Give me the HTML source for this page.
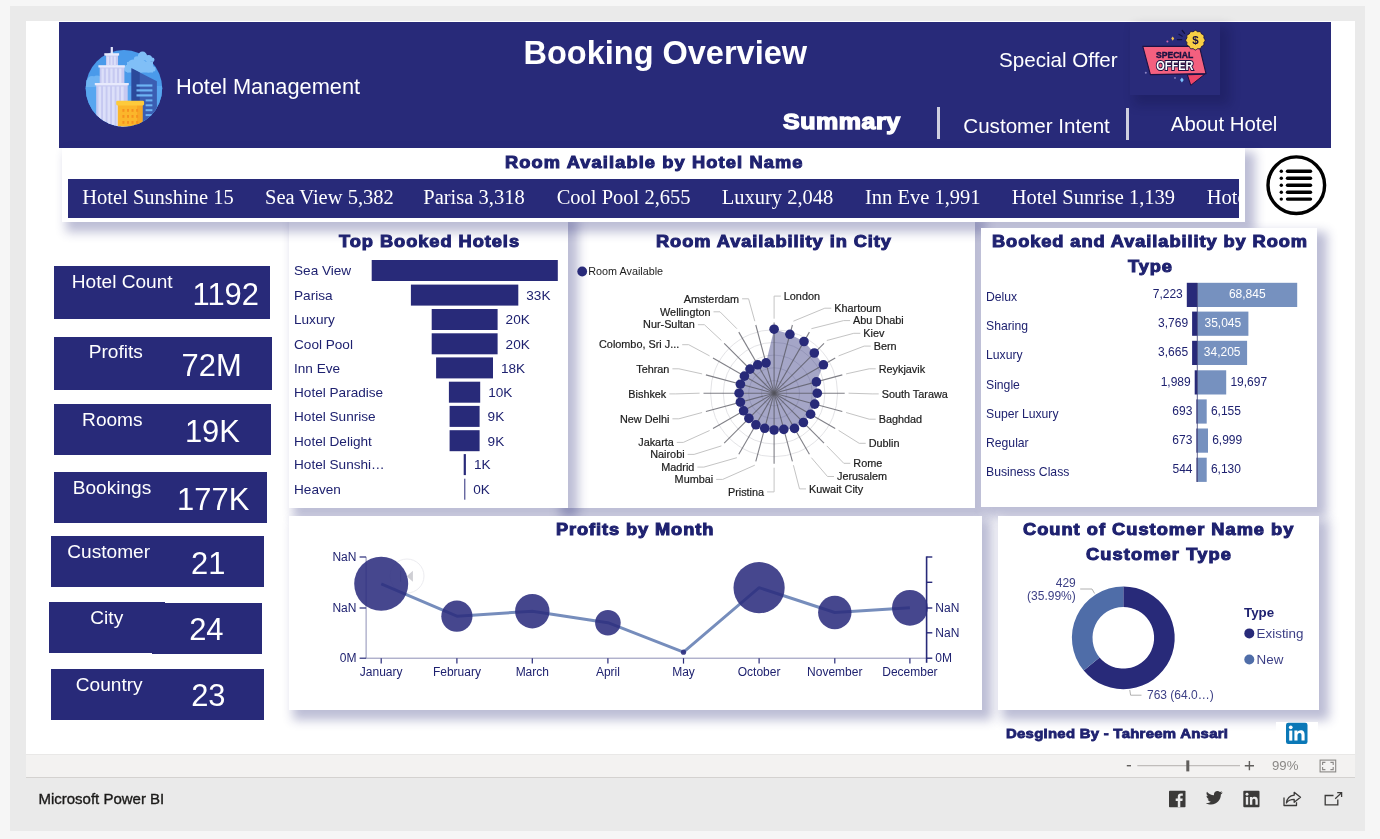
<!DOCTYPE html>
<html lang="en">
<head>
<meta charset="utf-8">
<title>Booking Overview</title>
<style>
*{box-sizing:border-box;margin:0;padding:0}
html,body{width:1380px;height:839px;overflow:hidden;background:#f6f6f6;font-family:"Liberation Sans",sans-serif;}
.abs{position:absolute}
.t{position:absolute;white-space:nowrap;line-height:1;color:#1f2270}
.w{color:#fff}
.bk{font-weight:bold;transform:scaleX(1.12);transform-origin:0 50%}
.se{font-family:"Liberation Serif",serif}
.panel{position:absolute;background:#fff;box-shadow:7px 7px 10px 3px rgba(40,42,121,.31)}
svg{position:absolute;left:0;top:0;overflow:visible}
svg text{font-family:"Liberation Sans",sans-serif}
</style>
</head>
<body>
<div class="abs" style="left:10px;top:6px;width:1355px;height:825px;background:#eaeaea;"></div>
<div class="abs" style="left:26px;top:21px;width:1329px;height:733px;background:#fff;"></div>
<div class="abs" style="left:26px;top:754px;width:1329px;height:24px;background:#f3f2f1;border-bottom:1px solid #d4d2d0;border-top:1px solid #e9e8e7;"></div>
<div class="abs" style="left:59px;top:22px;width:1272px;height:126px;background:#282a79;"></div>
<div class="panel" style="left:556px;top:214px;width:418.6px;height:293.5px"></div>
<div class="panel" style="left:289px;top:214px;width:279px;height:293.5px"></div>
<div class="panel" style="left:62px;top:148px;width:1183px;height:74px"></div>
<div class="panel" style="left:981px;top:227.7px;width:335.8px;height:279.6px"></div>
<div class="panel" style="left:289px;top:515.7px;width:693px;height:194px"></div>
<div class="panel" style="left:998px;top:515.7px;width:321px;height:194px"></div>
<div class="t  w" style="top:76.05px;font-size:21.8px;left:176.00px;">Hotel Management</div>
<div class="t  w" style="top:36.89px;font-size:32.5px;left:523.50px;font-weight:bold;">Booking Overview</div>
<div class="t  w" style="top:50.16px;font-size:20.6px;left:999.00px;">Special Offer</div>
<div class="t bk w" style="top:110.82px;font-size:22.3px;left:783.00px;letter-spacing:0.5px;-webkit-text-stroke:1.34px currentColor;">Summary</div>
<div class="abs" style="left:937px;top:107px;width:3px;height:31.5px;background:#cfcfe0;"></div>
<div class="t  w" style="top:115.96px;font-size:20.6px;left:963.30px;">Customer Intent</div>
<div class="abs" style="left:1126px;top:107.5px;width:3px;height:32px;background:#cfcfe0;"></div>
<div class="t  w" style="top:114.13px;font-size:20.4px;left:1170.80px;">About Hotel</div>
<div class="abs" style="left:1130px;top:22px;width:90px;height:73px;background:#292b7a;box-shadow:7px 7px 10px 3px rgba(12,12,55,.24);"></div>
<div class="t bk" style="top:153.50px;font-size:16.3px;left:504.50px;letter-spacing:1.0px;-webkit-text-stroke:0.98px currentColor;">Room Available by Hotel Name</div>
<div class="abs" style="left:68px;top:179px;width:1171px;height:39px;background:#282a79;overflow:hidden">
<div class="t se w" style="left:14.3px;top:8.13px;font-size:20.5px">Hotel Sunshine 15</div>
<div class="t se w" style="left:197.0px;top:8.13px;font-size:20.5px">Sea View 5,382</div>
<div class="t se w" style="left:355.3px;top:8.13px;font-size:20.5px">Parisa 3,318</div>
<div class="t se w" style="left:488.7px;top:8.13px;font-size:20.5px">Cool Pool 2,655</div>
<div class="t se w" style="left:653.7px;top:8.13px;font-size:20.5px">Luxury 2,048</div>
<div class="t se w" style="left:797.0px;top:8.13px;font-size:20.5px">Inn Eve 1,991</div>
<div class="t se w" style="left:943.7px;top:8.13px;font-size:20.5px">Hotel Sunrise 1,139</div>
<div class="t se w" style="left:1138.7px;top:8.13px;font-size:20.5px">Hotel Paradise 1,057</div>
</div>
<div class="abs" style="left:54.1px;top:265.9px;width:215.6px;height:53.4px;background:#282a79;"></div>
<div class="t  w" style="top:272.03px;font-size:19.1px;left:71.80px;">Hotel Count</div>
<div class="t  w" style="top:279.54px;font-size:30.9px;left:192.50px;">1192</div>
<div class="abs" style="left:54.1px;top:337.1px;width:218.1px;height:52.9px;background:#282a79;"></div>
<div class="t  w" style="top:342.43px;font-size:19.1px;left:88.70px;">Profits</div>
<div class="t  w" style="top:351.04px;font-size:30.9px;left:181.60px;">72M</div>
<div class="abs" style="left:54.1px;top:403.7px;width:216.5px;height:51.6px;background:#282a79;"></div>
<div class="t  w" style="top:409.63px;font-size:19.1px;left:82.10px;">Rooms</div>
<div class="t  w" style="top:416.64px;font-size:30.9px;left:184.90px;">19K</div>
<div class="abs" style="left:54.1px;top:472px;width:212.9px;height:51.3px;background:#282a79;"></div>
<div class="t  w" style="top:477.93px;font-size:19.1px;left:72.70px;">Bookings</div>
<div class="t  w" style="top:484.54px;font-size:30.9px;left:177.10px;">177K</div>
<div class="abs" style="left:51.4px;top:535.9px;width:212.7px;height:51.2px;background:#282a79;"></div>
<div class="t  w" style="top:542.03px;font-size:19.1px;left:67.30px;">Customer</div>
<div class="t  w" style="top:548.94px;font-size:30.9px;left:191.00px;">21</div>
<div class="abs" style="left:49.1px;top:602px;width:116px;height:51px;background:#282a79;"></div>
<div class="abs" style="left:152px;top:603.3px;width:109.9px;height:50.9px;background:#282a79;"></div>
<div class="t  w" style="top:607.53px;font-size:19.1px;left:90.30px;">City</div>
<div class="t  w" style="top:615.44px;font-size:30.9px;left:189.20px;">24</div>
<div class="abs" style="left:51.4px;top:668.6px;width:212.7px;height:51.6px;background:#282a79;"></div>
<div class="t  w" style="top:674.53px;font-size:19.1px;left:75.80px;">Country</div>
<div class="t  w" style="top:681.34px;font-size:30.9px;left:191.20px;">23</div>
<div class="abs" style="left:1276px;top:722px;width:42px;height:24px;background:#fff;"></div>
<div class="t bk" style="top:232.50px;font-size:16.3px;left:338.60px;letter-spacing:0.85px;-webkit-text-stroke:0.98px currentColor;">Top Booked Hotels</div>
<div class="t bk" style="top:232.70px;font-size:16.3px;left:656.30px;letter-spacing:0.84px;-webkit-text-stroke:0.98px currentColor;">Room Availability in City</div>
<div class="t bk" style="top:233.00px;font-size:16.3px;left:992.00px;letter-spacing:0.82px;-webkit-text-stroke:0.98px currentColor;">Booked and Availability by Room</div>
<div class="t bk" style="top:257.80px;font-size:16.3px;left:1127.80px;letter-spacing:0.8px;-webkit-text-stroke:0.98px currentColor;">Type</div>
<div class="t bk" style="top:521.00px;font-size:16.3px;left:556.20px;letter-spacing:0.8px;-webkit-text-stroke:0.98px currentColor;">Profits by Month</div>
<div class="t bk" style="top:521.00px;font-size:16.3px;left:1022.50px;letter-spacing:0.9px;-webkit-text-stroke:0.98px currentColor;">Count of Customer Name by</div>
<div class="t bk" style="top:546.30px;font-size:16.3px;left:1085.70px;letter-spacing:1.0px;-webkit-text-stroke:0.98px currentColor;">Customer Type</div>
<div class="t bk" style="top:727.14px;font-size:13.3px;left:1005.50px;letter-spacing:0.25px;-webkit-text-stroke:0.80px currentColor;">Desgined By - Tahreem Ansari</div>
<div class="t" style="top:791.10px;font-size:15.0px;left:38.40px;color:#1b1a19;-webkit-text-stroke:0.35px #1b1a19;">Microsoft Power BI</div>
<svg width="1380" height="839" viewBox="0 0 1380 839"><rect x="371.7" y="260" width="186.1" height="21" fill="#282a79"/>
<text x="294.00" y="275.30" font-size="13.6" text-anchor="start" fill="#1f2270">Sea View</text>
<rect x="410.9" y="284.6" width="107.4" height="21" fill="#282a79"/>
<text x="294.00" y="299.90" font-size="13.6" text-anchor="start" fill="#1f2270">Parisa</text>
<text x="526.30" y="299.90" font-size="13.6" text-anchor="start" fill="#1f2270">33K</text>
<rect x="431.7" y="309" width="65.9" height="21" fill="#282a79"/>
<text x="294.00" y="324.30" font-size="13.6" text-anchor="start" fill="#1f2270">Luxury</text>
<text x="505.60" y="324.30" font-size="13.6" text-anchor="start" fill="#1f2270">20K</text>
<rect x="431.7" y="333.3" width="65.9" height="21" fill="#282a79"/>
<text x="294.00" y="348.60" font-size="13.6" text-anchor="start" fill="#1f2270">Cool Pool</text>
<text x="505.60" y="348.60" font-size="13.6" text-anchor="start" fill="#1f2270">20K</text>
<rect x="436.1" y="357.4" width="56.9" height="21" fill="#282a79"/>
<text x="294.00" y="372.70" font-size="13.6" text-anchor="start" fill="#1f2270">Inn Eve</text>
<text x="501.00" y="372.70" font-size="13.6" text-anchor="start" fill="#1f2270">18K</text>
<rect x="448.9" y="381.7" width="31.3" height="21" fill="#282a79"/>
<text x="294.00" y="397.00" font-size="13.6" text-anchor="start" fill="#1f2270">Hotel Paradise</text>
<text x="488.20" y="397.00" font-size="13.6" text-anchor="start" fill="#1f2270">10K</text>
<rect x="449.6" y="405.9" width="30.0" height="21" fill="#282a79"/>
<text x="294.00" y="421.20" font-size="13.6" text-anchor="start" fill="#1f2270">Hotel Sunrise</text>
<text x="487.60" y="421.20" font-size="13.6" text-anchor="start" fill="#1f2270">9K</text>
<rect x="449.6" y="430.2" width="30.0" height="21" fill="#282a79"/>
<text x="294.00" y="445.50" font-size="13.6" text-anchor="start" fill="#1f2270">Hotel Delight</text>
<text x="487.60" y="445.50" font-size="13.6" text-anchor="start" fill="#1f2270">9K</text>
<rect x="463.7" y="454.1" width="2.2" height="21" fill="#282a79"/>
<text x="294.00" y="469.40" font-size="13.6" text-anchor="start" fill="#1f2270">Hotel Sunshi…</text>
<text x="473.90" y="469.40" font-size="13.6" text-anchor="start" fill="#1f2270">1K</text>
<rect x="464.3" y="478.7" width="1.0" height="21" fill="#282a79"/>
<text x="294.00" y="494.00" font-size="13.6" text-anchor="start" fill="#1f2270">Heaven</text>
<text x="473.30" y="494.00" font-size="13.6" text-anchor="start" fill="#1f2270">0K</text>
<circle cx="774.1" cy="393.2" r="12.7" fill="none" stroke="#e3e3e6" stroke-width="1"/>
<circle cx="774.1" cy="393.2" r="25.4" fill="none" stroke="#e3e3e6" stroke-width="1"/>
<circle cx="774.1" cy="393.2" r="38.1" fill="none" stroke="#e3e3e6" stroke-width="1"/>
<circle cx="774.1" cy="393.2" r="50.8" fill="none" stroke="#e3e3e6" stroke-width="1"/>
<circle cx="774.1" cy="393.2" r="63.5" fill="none" stroke="#e3e3e6" stroke-width="1"/>
<polyline points="774.1,318.7 774.1,296.1 780.8,296.1" fill="none" stroke="#c4c4c4" stroke-width="1"/>
<polyline points="793.4,321.2 824.8,308.2 831.3,308.2" fill="none" stroke="#c4c4c4" stroke-width="1"/>
<polyline points="811.4,328.7 843.6,320.6 850.1,320.6" fill="none" stroke="#c4c4c4" stroke-width="1"/>
<polyline points="826.8,340.5 853.8,333.3 860.3,333.3" fill="none" stroke="#c4c4c4" stroke-width="1"/>
<polyline points="838.6,355.9 864.2,346.1 870.7,346.1" fill="none" stroke="#c4c4c4" stroke-width="1"/>
<polyline points="846.1,373.9 869.2,368.8 875.7,368.8" fill="none" stroke="#c4c4c4" stroke-width="1"/>
<polyline points="848.6,393.2 872.2,393.9 878.7,393.9" fill="none" stroke="#c4c4c4" stroke-width="1"/>
<polyline points="846.1,412.5 869.2,419.2 875.7,419.2" fill="none" stroke="#c4c4c4" stroke-width="1"/>
<polyline points="838.6,430.4 859.2,443.3 865.7,443.3" fill="none" stroke="#c4c4c4" stroke-width="1"/>
<polyline points="826.8,445.9 843.8,463.3 850.3,463.3" fill="none" stroke="#c4c4c4" stroke-width="1"/>
<polyline points="811.4,457.7 827.5,476.5 834.0,476.5" fill="none" stroke="#c4c4c4" stroke-width="1"/>
<polyline points="793.4,465.2 799.5,488.9 806.0,488.9" fill="none" stroke="#c4c4c4" stroke-width="1"/>
<polyline points="774.1,467.7 774.1,491.9 767.1,491.9" fill="none" stroke="#c4c4c4" stroke-width="1"/>
<polyline points="754.8,465.2 722.7,479.4 716.2,479.4" fill="none" stroke="#c4c4c4" stroke-width="1"/>
<polyline points="736.9,457.7 703.9,467.1 697.4,467.1" fill="none" stroke="#c4c4c4" stroke-width="1"/>
<polyline points="721.4,445.9 694.1,454.4 687.6,454.4" fill="none" stroke="#c4c4c4" stroke-width="1"/>
<polyline points="709.6,430.5 683.3,442.4 676.8,442.4" fill="none" stroke="#c4c4c4" stroke-width="1"/>
<polyline points="702.1,412.5 678.9,418.8 672.4,418.8" fill="none" stroke="#c4c4c4" stroke-width="1"/>
<polyline points="699.6,393.2 675.8,393.9 669.3,393.9" fill="none" stroke="#c4c4c4" stroke-width="1"/>
<polyline points="702.1,373.9 678.9,368.8 672.4,368.8" fill="none" stroke="#c4c4c4" stroke-width="1"/>
<polyline points="709.6,355.9 688.7,344.7 682.2,344.7" fill="none" stroke="#c4c4c4" stroke-width="1"/>
<polyline points="721.4,340.5 704.4,324.7 697.9,324.7" fill="none" stroke="#c4c4c4" stroke-width="1"/>
<polyline points="736.9,328.7 720.0,311.8 713.5,311.8" fill="none" stroke="#c4c4c4" stroke-width="1"/>
<polyline points="754.8,321.2 748.6,298.8 742.1,298.8" fill="none" stroke="#c4c4c4" stroke-width="1"/>
<polygon points="774.1,329.2 789.9,334.3 804.0,341.5 814.3,353.0 823.4,364.8 816.4,381.9 817.3,393.2 814.7,404.1 810.6,414.2 803.4,422.5 794.5,428.4 783.8,429.4 774.1,430.0 764.7,428.3 755.9,424.8 748.9,418.4 743.6,410.8 740.4,402.2 739.1,393.2 740.4,384.2 744.4,376.1 750.0,369.1 757.7,364.8 766.0,362.9" fill="#282a79" fill-opacity="0.42"/>
<line x1="774.1" y1="393.2" x2="774.1" y2="322.6" stroke="#55555f" stroke-opacity="0.75" stroke-width="1.1"/>
<line x1="774.1" y1="393.2" x2="792.4" y2="325.0" stroke="#55555f" stroke-opacity="0.75" stroke-width="1.1"/>
<line x1="774.1" y1="393.2" x2="809.4" y2="332.1" stroke="#55555f" stroke-opacity="0.75" stroke-width="1.1"/>
<line x1="774.1" y1="393.2" x2="824.0" y2="343.3" stroke="#55555f" stroke-opacity="0.75" stroke-width="1.1"/>
<line x1="774.1" y1="393.2" x2="835.2" y2="357.9" stroke="#55555f" stroke-opacity="0.75" stroke-width="1.1"/>
<line x1="774.1" y1="393.2" x2="842.3" y2="374.9" stroke="#55555f" stroke-opacity="0.75" stroke-width="1.1"/>
<line x1="774.1" y1="393.2" x2="844.7" y2="393.2" stroke="#55555f" stroke-opacity="0.75" stroke-width="1.1"/>
<line x1="774.1" y1="393.2" x2="842.3" y2="411.5" stroke="#55555f" stroke-opacity="0.75" stroke-width="1.1"/>
<line x1="774.1" y1="393.2" x2="835.2" y2="428.5" stroke="#55555f" stroke-opacity="0.75" stroke-width="1.1"/>
<line x1="774.1" y1="393.2" x2="824.0" y2="443.1" stroke="#55555f" stroke-opacity="0.75" stroke-width="1.1"/>
<line x1="774.1" y1="393.2" x2="809.4" y2="454.3" stroke="#55555f" stroke-opacity="0.75" stroke-width="1.1"/>
<line x1="774.1" y1="393.2" x2="792.4" y2="461.4" stroke="#55555f" stroke-opacity="0.75" stroke-width="1.1"/>
<line x1="774.1" y1="393.2" x2="774.1" y2="463.8" stroke="#55555f" stroke-opacity="0.75" stroke-width="1.1"/>
<line x1="774.1" y1="393.2" x2="755.8" y2="461.4" stroke="#55555f" stroke-opacity="0.75" stroke-width="1.1"/>
<line x1="774.1" y1="393.2" x2="738.8" y2="454.3" stroke="#55555f" stroke-opacity="0.75" stroke-width="1.1"/>
<line x1="774.1" y1="393.2" x2="724.2" y2="443.1" stroke="#55555f" stroke-opacity="0.75" stroke-width="1.1"/>
<line x1="774.1" y1="393.2" x2="713.0" y2="428.5" stroke="#55555f" stroke-opacity="0.75" stroke-width="1.1"/>
<line x1="774.1" y1="393.2" x2="705.9" y2="411.5" stroke="#55555f" stroke-opacity="0.75" stroke-width="1.1"/>
<line x1="774.1" y1="393.2" x2="703.5" y2="393.2" stroke="#55555f" stroke-opacity="0.75" stroke-width="1.1"/>
<line x1="774.1" y1="393.2" x2="705.9" y2="374.9" stroke="#55555f" stroke-opacity="0.75" stroke-width="1.1"/>
<line x1="774.1" y1="393.2" x2="713.0" y2="357.9" stroke="#55555f" stroke-opacity="0.75" stroke-width="1.1"/>
<line x1="774.1" y1="393.2" x2="724.2" y2="343.3" stroke="#55555f" stroke-opacity="0.75" stroke-width="1.1"/>
<line x1="774.1" y1="393.2" x2="738.8" y2="332.1" stroke="#55555f" stroke-opacity="0.75" stroke-width="1.1"/>
<line x1="774.1" y1="393.2" x2="755.8" y2="325.0" stroke="#55555f" stroke-opacity="0.75" stroke-width="1.1"/>
<circle cx="774.1" cy="329.2" r="4.8" fill="#282a79"/>
<circle cx="789.9" cy="334.3" r="4.8" fill="#282a79"/>
<circle cx="804.0" cy="341.5" r="4.8" fill="#282a79"/>
<circle cx="814.3" cy="353.0" r="4.8" fill="#282a79"/>
<circle cx="823.4" cy="364.8" r="4.8" fill="#282a79"/>
<circle cx="816.4" cy="381.9" r="4.8" fill="#282a79"/>
<circle cx="817.3" cy="393.2" r="4.8" fill="#282a79"/>
<circle cx="814.7" cy="404.1" r="4.8" fill="#282a79"/>
<circle cx="810.6" cy="414.2" r="4.8" fill="#282a79"/>
<circle cx="803.4" cy="422.5" r="4.8" fill="#282a79"/>
<circle cx="794.5" cy="428.4" r="4.8" fill="#282a79"/>
<circle cx="783.8" cy="429.4" r="4.8" fill="#282a79"/>
<circle cx="774.1" cy="430.0" r="4.8" fill="#282a79"/>
<circle cx="764.7" cy="428.3" r="4.8" fill="#282a79"/>
<circle cx="755.9" cy="424.8" r="4.8" fill="#282a79"/>
<circle cx="748.9" cy="418.4" r="4.8" fill="#282a79"/>
<circle cx="743.6" cy="410.8" r="4.8" fill="#282a79"/>
<circle cx="740.4" cy="402.2" r="4.8" fill="#282a79"/>
<circle cx="739.1" cy="393.2" r="4.8" fill="#282a79"/>
<circle cx="740.4" cy="384.2" r="4.8" fill="#282a79"/>
<circle cx="744.4" cy="376.1" r="4.8" fill="#282a79"/>
<circle cx="750.0" cy="369.1" r="4.8" fill="#282a79"/>
<circle cx="757.7" cy="364.8" r="4.8" fill="#282a79"/>
<circle cx="766.0" cy="362.9" r="4.8" fill="#282a79"/>
<text x="783.80" y="299.85" font-size="10.85" text-anchor="start" fill="#1c1c1c" stroke="#1c1c1c" stroke-width="0.2">London</text>
<text x="834.30" y="311.95" font-size="10.85" text-anchor="start" fill="#1c1c1c" stroke="#1c1c1c" stroke-width="0.2">Khartoum</text>
<text x="853.10" y="324.35" font-size="10.85" text-anchor="start" fill="#1c1c1c" stroke="#1c1c1c" stroke-width="0.2">Abu Dhabi</text>
<text x="863.30" y="337.05" font-size="10.85" text-anchor="start" fill="#1c1c1c" stroke="#1c1c1c" stroke-width="0.2">Kiev</text>
<text x="873.70" y="349.85" font-size="10.85" text-anchor="start" fill="#1c1c1c" stroke="#1c1c1c" stroke-width="0.2">Bern</text>
<text x="878.70" y="372.55" font-size="10.85" text-anchor="start" fill="#1c1c1c" stroke="#1c1c1c" stroke-width="0.2">Reykjavik</text>
<text x="881.70" y="397.65" font-size="10.85" text-anchor="start" fill="#1c1c1c" stroke="#1c1c1c" stroke-width="0.2">South Tarawa</text>
<text x="878.70" y="422.95" font-size="10.85" text-anchor="start" fill="#1c1c1c" stroke="#1c1c1c" stroke-width="0.2">Baghdad</text>
<text x="868.70" y="447.05" font-size="10.85" text-anchor="start" fill="#1c1c1c" stroke="#1c1c1c" stroke-width="0.2">Dublin</text>
<text x="853.30" y="467.05" font-size="10.85" text-anchor="start" fill="#1c1c1c" stroke="#1c1c1c" stroke-width="0.2">Rome</text>
<text x="837.00" y="480.25" font-size="10.85" text-anchor="start" fill="#1c1c1c" stroke="#1c1c1c" stroke-width="0.2">Jerusalem</text>
<text x="809.00" y="492.65" font-size="10.85" text-anchor="start" fill="#1c1c1c" stroke="#1c1c1c" stroke-width="0.2">Kuwait City</text>
<text x="764.10" y="495.65" font-size="10.85" text-anchor="end" fill="#1c1c1c" stroke="#1c1c1c" stroke-width="0.2">Pristina</text>
<text x="713.20" y="483.15" font-size="10.85" text-anchor="end" fill="#1c1c1c" stroke="#1c1c1c" stroke-width="0.2">Mumbai</text>
<text x="694.40" y="470.85" font-size="10.85" text-anchor="end" fill="#1c1c1c" stroke="#1c1c1c" stroke-width="0.2">Madrid</text>
<text x="684.60" y="458.15" font-size="10.85" text-anchor="end" fill="#1c1c1c" stroke="#1c1c1c" stroke-width="0.2">Nairobi</text>
<text x="673.80" y="446.15" font-size="10.85" text-anchor="end" fill="#1c1c1c" stroke="#1c1c1c" stroke-width="0.2">Jakarta</text>
<text x="669.40" y="422.55" font-size="10.85" text-anchor="end" fill="#1c1c1c" stroke="#1c1c1c" stroke-width="0.2">New Delhi</text>
<text x="666.30" y="397.65" font-size="10.85" text-anchor="end" fill="#1c1c1c" stroke="#1c1c1c" stroke-width="0.2">Bishkek</text>
<text x="669.40" y="372.55" font-size="10.85" text-anchor="end" fill="#1c1c1c" stroke="#1c1c1c" stroke-width="0.2">Tehran</text>
<text x="679.20" y="348.45" font-size="10.85" text-anchor="end" fill="#1c1c1c" stroke="#1c1c1c" stroke-width="0.2">Colombo, Sri J...</text>
<text x="694.90" y="328.45" font-size="10.85" text-anchor="end" fill="#1c1c1c" stroke="#1c1c1c" stroke-width="0.2">Nur-Sultan</text>
<text x="710.50" y="315.55" font-size="10.85" text-anchor="end" fill="#1c1c1c" stroke="#1c1c1c" stroke-width="0.2">Wellington</text>
<text x="739.10" y="302.55" font-size="10.85" text-anchor="end" fill="#1c1c1c" stroke="#1c1c1c" stroke-width="0.2">Amsterdam</text>
<circle cx="582.2" cy="271.5" r="4.9" fill="#282a79"/>
<text x="588.30" y="275.30" font-size="10.8" text-anchor="start" fill="#1c1c1c">Room Available</text>
<rect x="1197.3" y="282.8" width="99.9" height="24.2" fill="#7691bf"/>
<rect x="1186.8" y="282.8" width="10.5" height="24.2" fill="#282a79"/>
<text x="986.00" y="301.20" font-size="12.2" text-anchor="start" fill="#1f2270">Delux</text>
<text x="1182.80" y="298.30" font-size="12" text-anchor="end" fill="#1f2270">7,223</text>
<text x="1247.25" y="298.30" font-size="12" text-anchor="middle" fill="#fff">68,845</text>
<rect x="1197.3" y="311.6" width="51.1" height="24.2" fill="#7691bf"/>
<rect x="1192.1" y="311.6" width="5.2" height="24.2" fill="#282a79"/>
<text x="986.00" y="330.00" font-size="12.2" text-anchor="start" fill="#1f2270">Sharing</text>
<text x="1188.10" y="327.10" font-size="12" text-anchor="end" fill="#1f2270">3,769</text>
<text x="1222.85" y="327.10" font-size="12" text-anchor="middle" fill="#fff">35,045</text>
<rect x="1197.3" y="340.8" width="49.8" height="24.2" fill="#7691bf"/>
<rect x="1192.1" y="340.8" width="5.2" height="24.2" fill="#282a79"/>
<text x="986.00" y="359.20" font-size="12.2" text-anchor="start" fill="#1f2270">Luxury</text>
<text x="1188.10" y="356.30" font-size="12" text-anchor="end" fill="#1f2270">3,665</text>
<text x="1222.20" y="356.30" font-size="12" text-anchor="middle" fill="#fff">34,205</text>
<rect x="1197.3" y="370.3" width="28.9" height="24.2" fill="#7691bf"/>
<rect x="1194.7" y="370.3" width="2.6" height="24.2" fill="#282a79"/>
<text x="986.00" y="388.70" font-size="12.2" text-anchor="start" fill="#1f2270">Single</text>
<text x="1190.70" y="385.80" font-size="12" text-anchor="end" fill="#1f2270">1,989</text>
<text x="1230.40" y="385.80" font-size="12" text-anchor="start" fill="#1f2270">19,697</text>
<rect x="1197.3" y="399.4" width="9.4" height="24.2" fill="#7691bf"/>
<rect x="1196.4" y="399.4" width="0.9" height="24.2" fill="#282a79"/>
<text x="986.00" y="417.80" font-size="12.2" text-anchor="start" fill="#1f2270">Super Luxury</text>
<text x="1192.40" y="414.90" font-size="12" text-anchor="end" fill="#1f2270">693</text>
<text x="1210.90" y="414.90" font-size="12" text-anchor="start" fill="#1f2270">6,155</text>
<rect x="1197.3" y="428.5" width="10.7" height="24.2" fill="#7691bf"/>
<rect x="1196.4" y="428.5" width="0.9" height="24.2" fill="#282a79"/>
<text x="986.00" y="446.90" font-size="12.2" text-anchor="start" fill="#1f2270">Regular</text>
<text x="1192.40" y="444.00" font-size="12" text-anchor="end" fill="#1f2270">673</text>
<text x="1212.20" y="444.00" font-size="12" text-anchor="start" fill="#1f2270">6,999</text>
<rect x="1197.3" y="457.7" width="9.4" height="24.2" fill="#7691bf"/>
<rect x="1196.5" y="457.7" width="0.8" height="24.2" fill="#282a79"/>
<text x="986.00" y="476.10" font-size="12.2" text-anchor="start" fill="#1f2270">Business Class</text>
<text x="1192.50" y="473.20" font-size="12" text-anchor="end" fill="#1f2270">544</text>
<text x="1210.90" y="473.20" font-size="12" text-anchor="start" fill="#1f2270">6,130</text>
<line x1="1197.3" y1="283" x2="1197.3" y2="482" stroke="#3a3c70" stroke-width="0.8"/>
<path d="M366.1 557V658.2H926.6" fill="none" stroke="#8d8fb6" stroke-width="1"/>
<line x1="359.6" y1="557" x2="366.1" y2="557" stroke="#282a79" stroke-width="1.2"/>
<line x1="359.6" y1="608" x2="366.1" y2="608" stroke="#282a79" stroke-width="1.2"/>
<line x1="359.6" y1="658.2" x2="366.1" y2="658.2" stroke="#282a79" stroke-width="1.2"/>
<line x1="381.2" y1="658.2" x2="381.2" y2="663.6" stroke="#282a79" stroke-width="1.2"/>
<text x="381.20" y="676.00" font-size="12" text-anchor="middle" fill="#1f2270">January</text>
<line x1="456.9" y1="658.2" x2="456.9" y2="663.6" stroke="#282a79" stroke-width="1.2"/>
<text x="456.90" y="676.00" font-size="12" text-anchor="middle" fill="#1f2270">February</text>
<line x1="532.3" y1="658.2" x2="532.3" y2="663.6" stroke="#282a79" stroke-width="1.2"/>
<text x="532.30" y="676.00" font-size="12" text-anchor="middle" fill="#1f2270">March</text>
<line x1="607.9" y1="658.2" x2="607.9" y2="663.6" stroke="#282a79" stroke-width="1.2"/>
<text x="607.90" y="676.00" font-size="12" text-anchor="middle" fill="#1f2270">April</text>
<line x1="683.5" y1="658.2" x2="683.5" y2="663.6" stroke="#282a79" stroke-width="1.2"/>
<text x="683.50" y="676.00" font-size="12" text-anchor="middle" fill="#1f2270">May</text>
<line x1="759.1" y1="658.2" x2="759.1" y2="663.6" stroke="#282a79" stroke-width="1.2"/>
<text x="759.10" y="676.00" font-size="12" text-anchor="middle" fill="#1f2270">October</text>
<line x1="834.8" y1="658.2" x2="834.8" y2="663.6" stroke="#282a79" stroke-width="1.2"/>
<text x="834.80" y="676.00" font-size="12" text-anchor="middle" fill="#1f2270">November</text>
<line x1="909.9" y1="658.2" x2="909.9" y2="663.6" stroke="#282a79" stroke-width="1.2"/>
<text x="909.90" y="676.00" font-size="12" text-anchor="middle" fill="#1f2270">December</text>
<text x="356.40" y="561.20" font-size="12" text-anchor="end" fill="#1f2270">NaN</text>
<text x="356.40" y="612.20" font-size="12" text-anchor="end" fill="#1f2270">NaN</text>
<text x="356.40" y="662.40" font-size="12" text-anchor="end" fill="#1f2270">0M</text>
<line x1="926.6" y1="556.4" x2="926.6" y2="662.8" stroke="#282a79" stroke-width="1.6"/>
<line x1="926.6" y1="557" x2="932.3" y2="557" stroke="#282a79" stroke-width="1.4"/>
<line x1="926.6" y1="582.3" x2="932.3" y2="582.3" stroke="#282a79" stroke-width="1.4"/>
<line x1="926.6" y1="608" x2="932.3" y2="608" stroke="#282a79" stroke-width="1.4"/>
<line x1="926.6" y1="632.8" x2="932.3" y2="632.8" stroke="#282a79" stroke-width="1.4"/>
<line x1="926.6" y1="658.2" x2="932.3" y2="658.2" stroke="#282a79" stroke-width="1.4"/>
<text x="935.30" y="612.20" font-size="12" text-anchor="start" fill="#1f2270">NaN</text>
<text x="935.30" y="637.00" font-size="12" text-anchor="start" fill="#1f2270">NaN</text>
<text x="935.30" y="662.40" font-size="12" text-anchor="start" fill="#1f2270">0M</text>
<circle cx="407" cy="576" r="17" fill="#fff" fill-opacity="0.6" stroke="#ececf0" stroke-width="1"/>
<path d="M412.9 570.7l-6.2 5.500 6.200 5.500z M400 570.700h1.300v11h-1.300z" fill="#cfcfd4"/>
<polyline points="381.2,583.8 456.9,616.2 532.3,611.2 607.9,622.7 683.5,652.2 759.1,587.7 834.8,612.5 909.9,607.8" fill="none" stroke="#768dbc" stroke-width="2.9" stroke-linejoin="round"/>
<circle cx="381.2" cy="583.8" r="27" fill="#2a2c7d" fill-opacity="0.87"/>
<circle cx="456.9" cy="616.2" r="15.6" fill="#2a2c7d" fill-opacity="0.87"/>
<circle cx="532.3" cy="611.2" r="17.2" fill="#2a2c7d" fill-opacity="0.87"/>
<circle cx="607.9" cy="622.7" r="12.8" fill="#2a2c7d" fill-opacity="0.87"/>
<circle cx="683.5" cy="652.2" r="2.6" fill="#2a2c7d" fill-opacity="0.87"/>
<circle cx="759.1" cy="587.7" r="25.6" fill="#2a2c7d" fill-opacity="0.87"/>
<circle cx="834.8" cy="612.5" r="16.7" fill="#2a2c7d" fill-opacity="0.87"/>
<circle cx="909.9" cy="607.8" r="17.9" fill="#2a2c7d" fill-opacity="0.87"/>
<path d="M1123.30 586.40A51.4 51.4 0 1 1 1083.70 670.56L1099.57 657.43A30.8 30.8 0 1 0 1123.30 607.00Z" fill="#282a79"/>
<path d="M1083.70 670.56A51.4 51.4 0 0 1 1123.30 586.40L1123.30 607.00A30.8 30.8 0 0 0 1099.57 657.43Z" fill="#4f6da8"/>
<text x="1075.80" y="586.80" font-size="12" text-anchor="end" fill="#3c3f85">429</text>
<text x="1075.80" y="600.30" font-size="12" text-anchor="end" fill="#3c3f85">(35.99%)</text>
<polyline points="1080.2,589 1092,589 1094.6,593.5" fill="none" stroke="#b0b0b0" stroke-width="1"/>
<text x="1147.00" y="699.00" font-size="12" text-anchor="start" fill="#3c3f85">763 (64.0…)</text>
<polyline points="1129.8,690 1130.6,695.2 1141.5,695.2" fill="none" stroke="#b0b0b0" stroke-width="1"/>
<text x="1244.00" y="617.00" font-size="13.3" text-anchor="start" fill="#1f2270" font-weight="bold">Type</text>
<circle cx="1249.3" cy="633.4" r="5" fill="#282a79"/>
<text x="1256.60" y="637.80" font-size="13.4" text-anchor="start" fill="#3c3f85">Existing</text>
<circle cx="1249.3" cy="659.5" r="5" fill="#4f6da8"/>
<text x="1256.60" y="663.50" font-size="13.4" text-anchor="start" fill="#3c3f85">New</text></svg>
<svg width="1380" height="839" viewBox="0 0 1380 839"><defs><clipPath id="lc"><circle cx="123.95" cy="88.35" r="38.25"/></clipPath><clipPath id="lc2"><circle cx="123.95" cy="88.35" r="38.25"/><rect x="80" y="40" width="90" height="48"/></clipPath></defs>
<g clip-path="url(#lc)">
<rect x="85" y="50" width="78" height="78" fill="#4a9aea"/>
<rect x="85" y="86" width="78" height="42" fill="#58a6f0"/>
<g fill="#6fb4f3"><circle cx="92" cy="81" r="5"/><circle cx="97" cy="79.5" r="4"/><rect x="85" y="80" width="16" height="7"/></g>
</g><g clip-path="url(#lc2)">
<g fill="#80bff7"><circle cx="142.5" cy="56.2" r="4.6"/><circle cx="148.5" cy="58.6" r="3.6"/><circle cx="152.2" cy="59.8" r="2.3"/><circle cx="137" cy="59.5" r="3.2"/><circle cx="133" cy="65" r="5.5"/><circle cx="141" cy="66" r="6.5"/><circle cx="148.500" cy="67.500" r="5"/><circle cx="153" cy="69" r="2.6"/><circle cx="128" cy="68.500" r="3.800"/><rect x="127" y="62" width="26" height="10.500"/></g>
<polygon points="131.5,68.3 156.9,81.2 156.9,128 131.5,128" fill="#3b5eb2"/>
<polygon points="131.5,68.3 139.7,72.4 139.7,128 131.5,128" fill="#2b4a9b"/>
<g fill="#6db4f4">
<rect x="136.5" y="84.4" width="15.9" height="2.2"/>
<rect x="136.5" y="89.3" width="15.9" height="2.2"/>
<rect x="136.5" y="94.3" width="15.9" height="2.2"/>
<rect x="145.6" y="99.4" width="6.8" height="2"/>
<rect x="145.6" y="104.3" width="6.8" height="2"/>
<rect x="145.6" y="109.2" width="6.8" height="2"/>
<rect x="145.6" y="114.1" width="6.8" height="2"/>
</g>
<rect x="110.7" y="47" width="2.2" height="7" fill="#e4e6fb"/>
<rect x="106" y="55" width="12" height="11" fill="#c6c9f1"/>
<rect x="104.3" y="53.2" width="14.8" height="2.4" fill="#e8eafc"/>
<rect x="99.7" y="67" width="24.7" height="17" fill="#c6c9f1"/>
<rect x="98.4" y="65.2" width="26.5" height="2.3" fill="#e8eafc"/>
<rect x="96.2" y="85" width="31.5" height="43" fill="#c6c9f1"/>
<rect x="94.8" y="83" width="34" height="2.3" fill="#e8eafc"/>
<g fill="#dcdff9">
<rect x="107.2" y="56.5" width="1.8" height="9"/>
<rect x="110.6" y="56.5" width="1.8" height="9"/>
<rect x="114" y="56.5" width="1.8" height="9"/>
<rect x="101.5" y="68.5" width="2.3" height="14.5"/>
<rect x="105.9" y="68.5" width="2.3" height="14.5"/>
<rect x="110.3" y="68.5" width="2.3" height="14.5"/>
<rect x="114.7" y="68.5" width="2.3" height="14.5"/>
<rect x="119.1" y="68.5" width="2.3" height="14.5"/>
<rect x="98.5" y="86.5" width="2.6" height="42"/>
<rect x="103" y="86.5" width="2.6" height="42"/>
<rect x="107.5" y="86.5" width="2.6" height="42"/>
<rect x="112" y="86.5" width="2.6" height="42"/>
<rect x="116.5" y="86.5" width="2.6" height="42"/>
<rect x="121" y="86.5" width="2.6" height="42"/>
</g>
<rect x="117.8" y="104" width="24.7" height="24" fill="#fbb62b"/>
<rect x="137" y="104" width="5.5" height="24" fill="#f7a724"/>
<rect x="116.2" y="100.8" width="27.9" height="4.6" rx="1.3" fill="#fdca3c"/>
<g fill="#f5921e">
<rect x="122.4" y="109" width="2" height="2.8"/>
<rect x="127" y="109" width="2" height="2.8"/>
<rect x="131.5" y="109" width="2" height="2.8"/>
<rect x="136.1" y="109" width="2" height="2.8"/>
<rect x="122.4" y="115" width="2" height="2.8"/>
<rect x="127" y="115" width="2" height="2.8"/>
<rect x="131.5" y="115" width="2" height="2.8"/>
<rect x="136.1" y="115" width="2" height="2.8"/>
<rect x="122.4" y="121" width="2" height="2.8"/>
<rect x="127" y="121" width="2" height="2.8"/>
<rect x="131.5" y="121" width="2" height="2.8"/>
<rect x="136.1" y="121" width="2" height="2.8"/>
</g>
</g>
<polygon points="1187.4,74.8 1204.8,74.2 1190.8,85.3" fill="#ee4568" stroke="#1b1242" stroke-width="1" stroke-linejoin="round"/>
<polygon points="1142.8,46.4 1199.4,46.4 1206,73.6 1150.4,74.6" fill="#f4607f" stroke="#1b1242" stroke-width="1.1" stroke-linejoin="round"/>
<polygon points="1205.25,40.20 1204.62,41.41 1203.85,42.46 1203.99,43.76 1203.93,45.12 1202.78,45.86 1201.59,46.39 1201.06,47.58 1200.33,48.73 1198.96,48.79 1197.66,48.65 1196.61,49.42 1195.40,50.05 1194.19,49.42 1193.14,48.65 1191.84,48.79 1190.48,48.73 1189.74,47.58 1189.21,46.39 1188.02,45.86 1186.87,45.12 1186.81,43.76 1186.95,42.46 1186.18,41.41 1185.55,40.20 1186.18,38.99 1186.95,37.94 1186.81,36.64 1186.87,35.28 1188.02,34.54 1189.21,34.01 1189.74,32.82 1190.48,31.67 1191.84,31.61 1193.14,31.75 1194.19,30.98 1195.40,30.35 1196.61,30.98 1197.66,31.75 1198.96,31.61 1200.33,31.67 1201.06,32.82 1201.59,34.01 1202.78,34.54 1203.93,35.27 1203.99,36.64 1203.85,37.94 1204.62,38.99" fill="#f8cf45" stroke="#1b1242" stroke-width="0.9"/>
<text x="1195.4" y="44.3" font-size="11.5" font-weight="bold" text-anchor="middle" fill="#1b1242">$</text>
<text x="1156" y="58.1" font-size="9.6" font-weight="bold" fill="#1b1242" stroke="#1b1242" stroke-width="0.45" textLength="37.2" lengthAdjust="spacingAndGlyphs">SPECIAL</text>
<text x="1156.3" y="69.9" font-size="13" font-weight="bold" fill="#fff" stroke="#1b1242" stroke-width="2.1" paint-order="stroke" textLength="37.2" lengthAdjust="spacingAndGlyphs">OFFER</text>
<g stroke="#121240" stroke-width="1.25" stroke-linecap="round"><line x1="1182.2" y1="30.5" x2="1184.6" y2="33.3"/><line x1="1178.9" y1="34.3" x2="1182.2" y2="36.2"/><line x1="1177.4" y1="39.5" x2="1181.7" y2="39.5"/></g>
<path d="M1172.7 36.4l1.5 2.2-1.5 2.2-1.5-2.2z" fill="#f3c24f"/><circle cx="1167.4" cy="41.4" r="1" fill="#d16ab0"/>
<circle cx="1145.8" cy="72.7" r="1" fill="#8d86c4"/><circle cx="1175" cy="77.9" r="0.9" fill="#8d86c4"/><path d="M1181.9 77.6l1.8 2.5-1.8 2.5-1.8-2.5z" fill="#7cc4ff"/>
<circle cx="1296.3" cy="185.2" r="28.3" fill="#fff" stroke="#000" stroke-width="3.4"/>
<g stroke="#000" stroke-width="3.4" stroke-linecap="round">
<line x1="1287.5" y1="171.2" x2="1310.5" y2="171.2"/>
<line x1="1287.5" y1="178.2" x2="1310.5" y2="178.2"/>
<line x1="1287.5" y1="185.2" x2="1310.5" y2="185.2"/>
<line x1="1287.5" y1="192.2" x2="1310.5" y2="192.2"/>
<line x1="1287.5" y1="199.1" x2="1310.5" y2="199.1"/>
</g><g fill="#000">
<circle cx="1281.3" cy="171.2" r="1.7"/>
<circle cx="1281.3" cy="178.2" r="1.7"/>
<circle cx="1281.3" cy="185.2" r="1.7"/>
<circle cx="1281.3" cy="192.2" r="1.7"/>
<circle cx="1281.3" cy="199.1" r="1.7"/>
</g>
<rect x="1286" y="722.7" width="21.5" height="21.3" rx="2.2" fill="#0b78b7"/>
<g fill="#fff"><rect x="1289.2" y="730.6" width="3.1" height="10"/><circle cx="1290.75" cy="727.3" r="1.85"/><path d="M1294.4 730.6h3v1.4c.6-1 1.7-1.7 3.3-1.7 3 0 3.9 1.9 3.9 4.7v5.6h-3.1v-5c0-1.4-.3-2.5-1.8-2.5s-2.2 1.1-2.2 2.5v5h-3.1z"/></g>
<rect x="1126.8" y="765" width="4.2" height="1.4" fill="#605e5c"/>
<rect x="1137.3" y="765.2" width="102.7" height="1" fill="#b3b0ad"/>
<rect x="1186.3" y="760.4" width="3" height="11" fill="#605e5c"/>
<path d="M1244.8 765h9.2v1.4h-9.2z M1248.7 761.1h1.4v9.2h-1.4z" fill="#605e5c"/>
<text x="1272" y="770.3" font-size="13.2" fill="#8a8886">99%</text>
<g fill="none" stroke="#8a8886" stroke-width="1.1"><rect x="1320.1" y="760.1" width="15.6" height="11.8"/><path d="M1322.6 765v-2.6h2.8M1330.4 762.4h2.8v2.6M1333.2 767v2.6h-2.8M1325.4 769.6h-2.8v-2.6"/></g>
<rect x="1169" y="790.7" width="16.5" height="16.5" rx="0.8" fill="#3b3a39"/>
<path d="M1180.3 807.2v-6.2h2.1l.3-2.5h-2.4v-1.5c0-.7.2-1.2 1.2-1.2h1.3v-2.2c-.2 0-1-.1-1.9-.1-1.9 0-3.1 1.1-3.1 3.2v1.8h-2.1v2.5h2.1v6.2z" fill="#eaeaea"/>
<path transform="translate(1205.8,789.3) scale(0.71)" d="M23.6 4.6c-.9.4-1.8.6-2.8.8 1-.6 1.8-1.6 2.1-2.7-.9.6-2 1-3.1 1.2C18.900 2.900 17.700 2.400 16.300 2.400c-2.700 0-4.800 2.200-4.800 4.800 0 .4 0 .8.100 1.100C7.600 8.100 4.100 6.200 1.700 3.300c-.4.700-.7 1.500-.7 2.400 0 1.700.9 3.100 2.200 4-.8 0-1.500-.2-2.200-.6v.100c0 2.300 1.700 4.300 3.900 4.700-.4.100-.8.200-1.300.2-.3 0-.6 0-.9-.100.600 1.900 2.400 3.300 4.500 3.400-1.600 1.300-3.700 2-6 2-.4 0-.8 0-1.100-.100 2.100 1.400 4.700 2.200 7.400 2.200 8.900 0 13.700-7.400 13.700-13.700v-.6c.9-.7 1.700-1.500 2.400-2.500z" fill="#3b3a39"/>
<rect x="1243.3" y="790.7" width="16.2" height="16.5" rx="1" fill="#3b3a39"/>
<g fill="#eaeaea"><rect x="1245.8" y="796.9" width="2.4" height="7.8"/><circle cx="1247" cy="794.3" r="1.45"/><path d="M1249.9 796.9h2.3v1.1c.45-.8 1.3-1.3 2.55-1.3 2.35 0 3.05 1.5 3.05 3.65v4.35h-2.4v-3.9c0-1.1-.25-1.95-1.4-1.95s-1.7.85-1.700 1.95v3.900h-2.400z"/></g>
<g fill="none" stroke="#3b3a39" stroke-width="1.3" stroke-linejoin="round"><path d="M1284 797.500v8h12.500v-3.200"/><path d="M1294.200 792.300l6.300 5-6.300 5v-2.900c-3.600 0-6 1-7.800 3.600.6-4.300 3-7.200 7.800-7.800z"/></g>
<g fill="none" stroke="#3b3a39" stroke-width="1.3"><path d="M1333.500 795.500h-8.300v9.300h12.600v-5.300"/><path d="M1335.200 798.700l6.200-5.800M1337.200 792.700h4.400v4.400"/></g></svg>
</body>
</html>
